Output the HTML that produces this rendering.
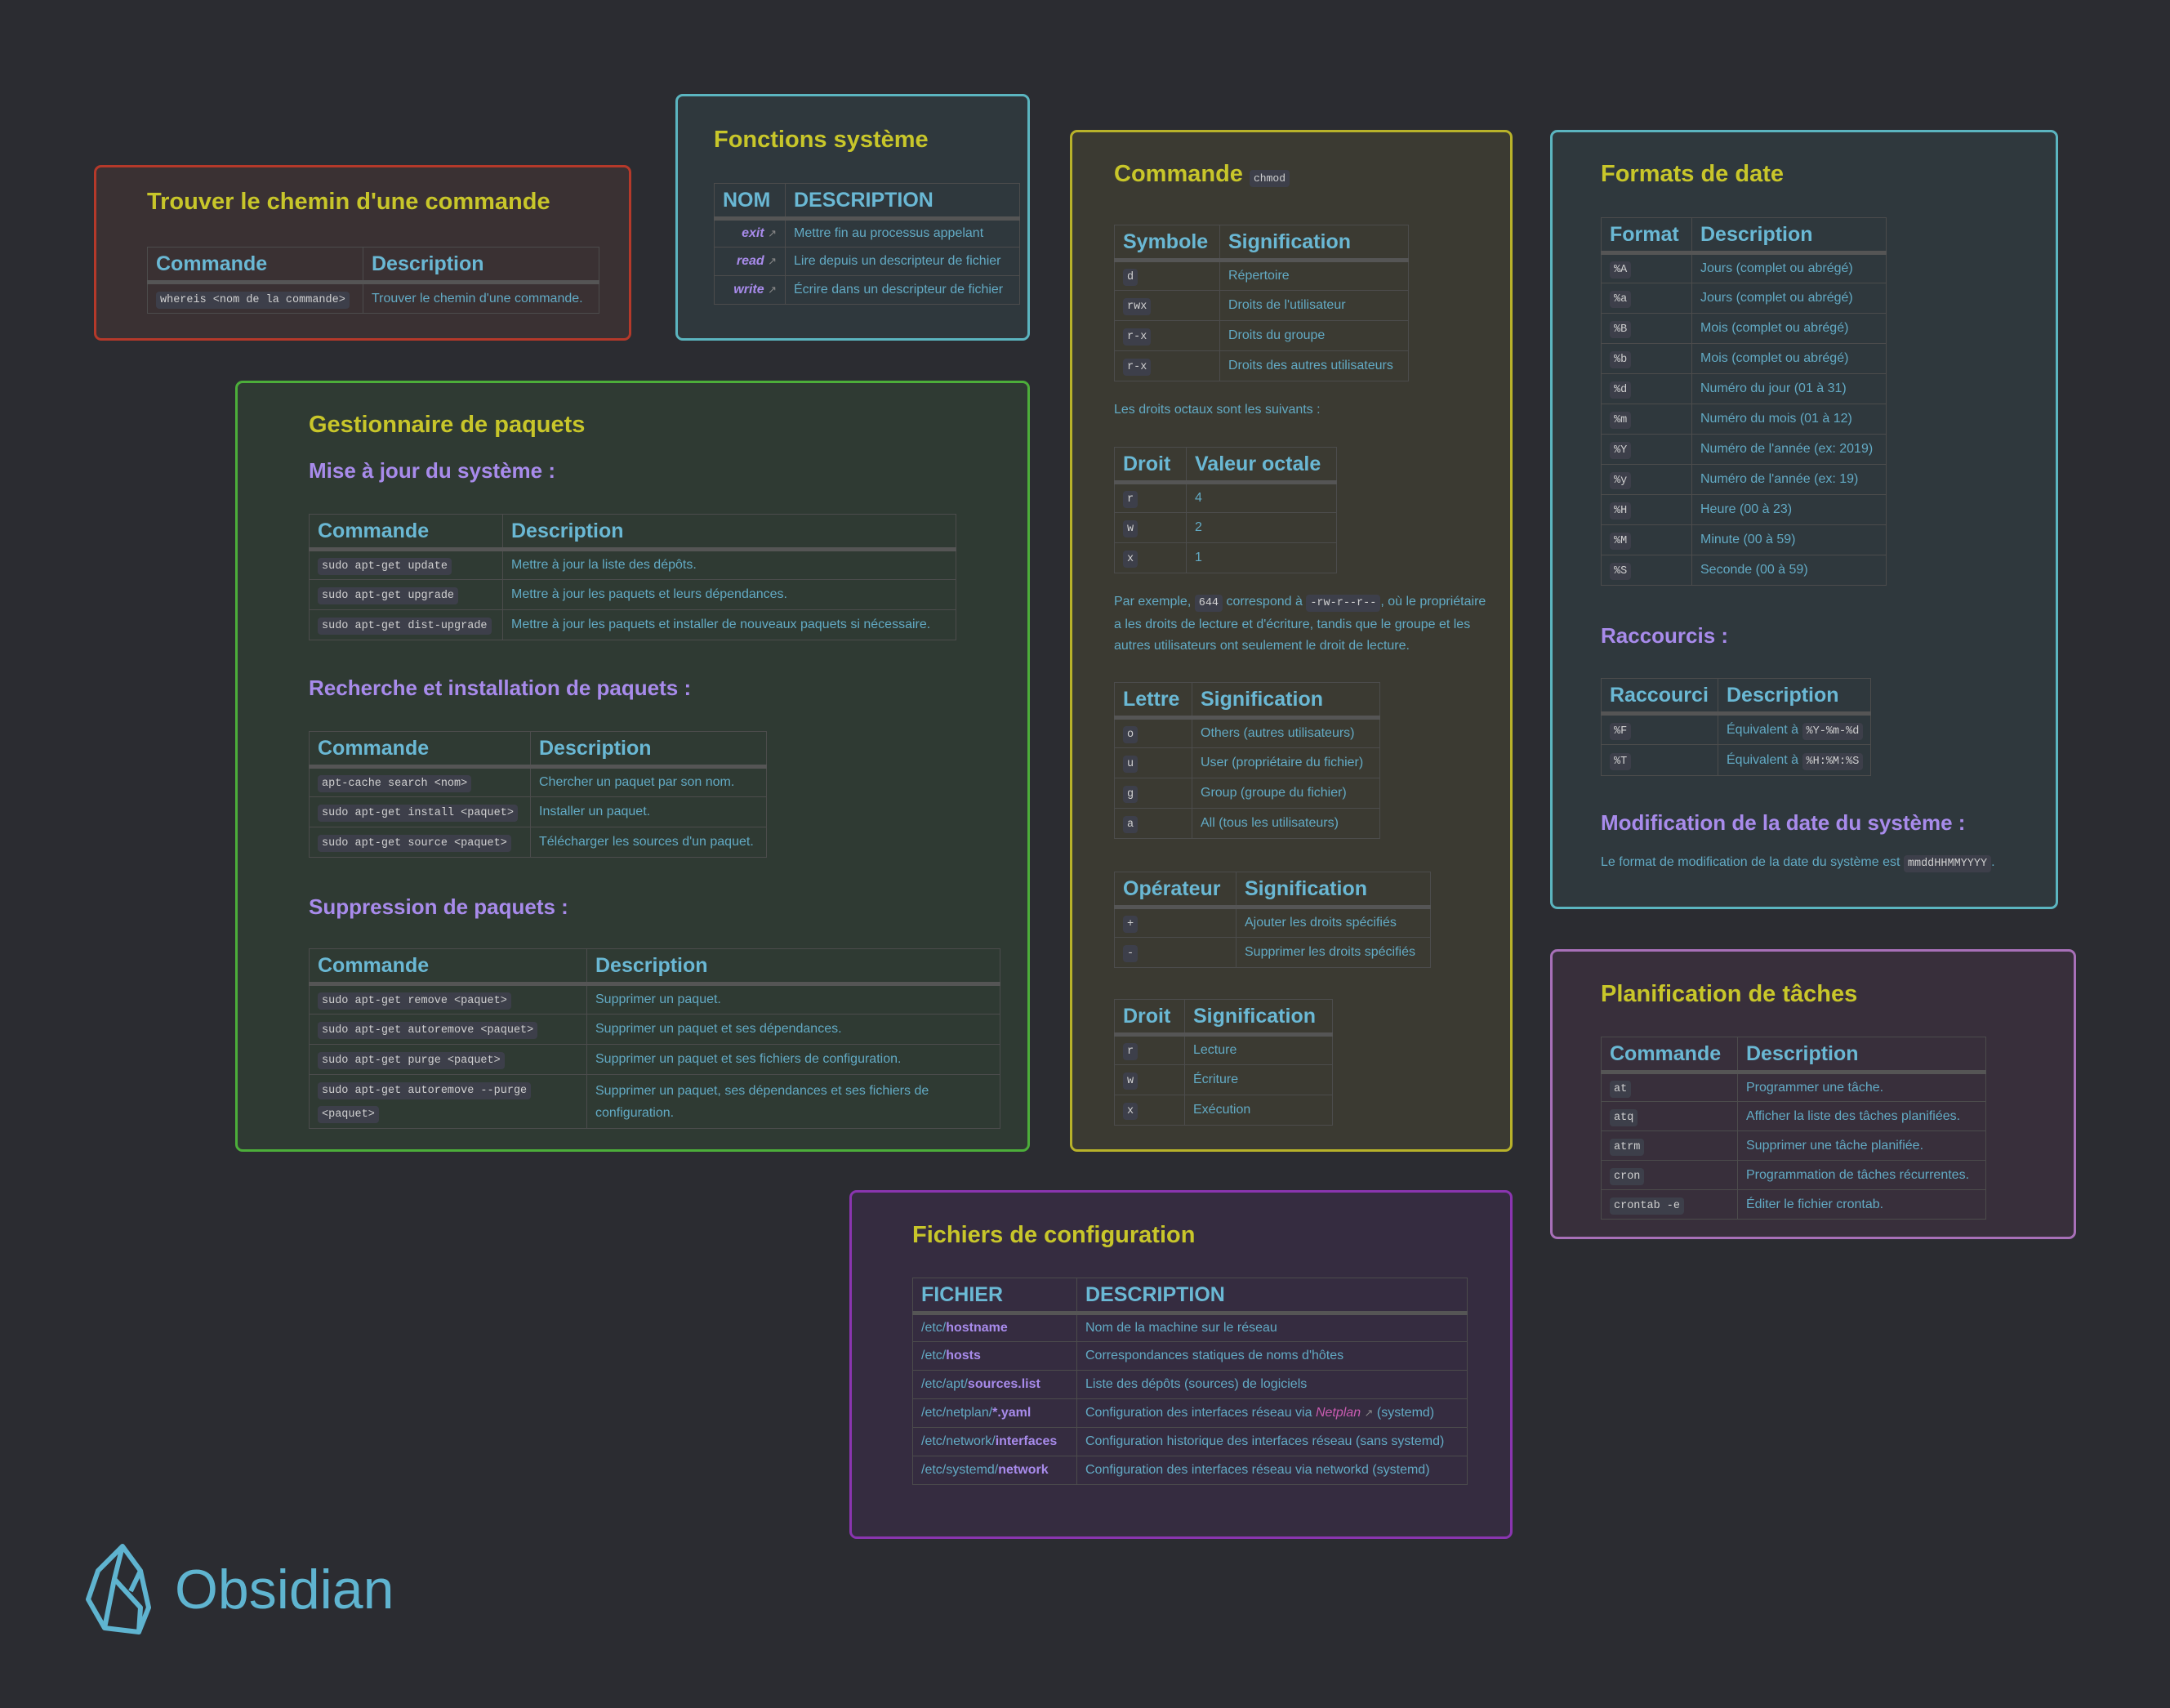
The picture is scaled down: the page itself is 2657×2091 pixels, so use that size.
<!DOCTYPE html>
<html><head><meta charset="utf-8">
<style>
html,body{margin:0;padding:0}
body{width:2657px;height:2091px;background:#2b2c31;position:relative;overflow:hidden;font-family:"Liberation Sans",sans-serif;color:#62aac4}
.box{position:absolute;border:3px solid;border-radius:9px;box-sizing:border-box}
.t{position:absolute;font-weight:bold;color:#c8c62a;font-size:29px;white-space:nowrap;line-height:1}
.h{position:absolute;font-weight:bold;color:#a88beb;font-size:26px;white-space:nowrap;line-height:1}
.p{position:absolute;font-size:16px;color:#62aac4;white-space:nowrap;line-height:26px}
table{position:absolute;border-collapse:collapse;table-layout:fixed}
th{font-size:25px;font-weight:bold;color:#6ab8d4;text-align:left;padding:0 10px;border:1px solid #4c4c4c;border-bottom:5px solid #555;height:40px;white-space:nowrap}
td{font-size:16px;color:#62aac4;padding:0 10px;border:1px solid #4c4c4c;white-space:nowrap}
code{font-family:"Liberation Mono",monospace;font-size:13.5px;color:#d0d0d0;background:#3d3f4a;padding:3px 5px;border-radius:4px}
.l{color:#a88beb;font-style:italic;font-weight:bold}
.e{color:#888;font-size:13px}
b.f{color:#a88beb}
</style></head><body>

<!-- Box 1 -->
<div class="box" style="left:115px;top:202px;width:658px;height:215px;border-color:#b5392a;background:#3a3133"></div>
<div class="t" style="left:180px;top:233px">Trouver le chemin d'une commande</div>
<table style="left:180px;top:302px;width:554px">
<colgroup><col style="width:264px"><col></colgroup>
<tr><th>Commande</th><th>Description</th></tr>
<tr style="height:38px"><td><code>whereis &lt;nom de la commande&gt;</code></td><td>Trouver le chemin d'une commande.</td></tr>
</table>

<!-- Box 2 -->
<div class="box" style="left:827px;top:115px;width:434px;height:302px;border-color:#5bb5c0;background:#2f383d"></div>
<div class="t" style="left:874px;top:157px">Fonctions système</div>
<table style="left:874px;top:224px;width:375px">
<colgroup><col style="width:87px"><col></colgroup>
<tr><th>NOM</th><th>DESCRIPTION</th></tr>
<tr style="height:35px"><td style="text-align:right"><span class="l">exit</span> <span class="e">↗</span></td><td>Mettre fin au processus appelant</td></tr>
<tr style="height:35px"><td style="text-align:right"><span class="l">read</span> <span class="e">↗</span></td><td>Lire depuis un descripteur de fichier</td></tr>
<tr style="height:35px"><td style="text-align:right"><span class="l">write</span> <span class="e">↗</span></td><td>Écrire dans un descripteur de fichier</td></tr>
</table>

<!-- Box 3 chmod -->
<div class="box" style="left:1310px;top:159px;width:542px;height:1251px;border-color:#b8b22a;background:#3b3a32"></div>
<div class="t" style="left:1364px;top:199px">Commande <code style="font-weight:normal;font-size:13px">chmod</code></div>
<table style="left:1364px;top:275px;width:361px">
<colgroup><col style="width:129px"><col></colgroup>
<tr><th>Symbole</th><th>Signification</th></tr>
<tr style="height:37px"><td><code>d</code></td><td>Répertoire</td></tr>
<tr style="height:37px"><td><code>rwx</code></td><td>Droits de l'utilisateur</td></tr>
<tr style="height:37px"><td><code>r-x</code></td><td>Droits du groupe</td></tr>
<tr style="height:37px"><td><code>r-x</code></td><td>Droits des autres utilisateurs</td></tr>
</table>
<div class="p" style="left:1364px;top:489px">Les droits octaux sont les suivants :</div>
<table style="left:1364px;top:547px;width:273px">
<colgroup><col style="width:88px"><col></colgroup>
<tr><th>Droit</th><th>Valeur octale</th></tr>
<tr style="height:37px"><td><code>r</code></td><td>4</td></tr>
<tr style="height:37px"><td><code>w</code></td><td>2</td></tr>
<tr style="height:37px"><td><code>x</code></td><td>1</td></tr>
</table>
<div class="p" style="left:1364px;top:724px">Par exemple, <code>644</code> correspond à <code>-rw-r--r--</code>, où le propriétaire<br>a les droits de lecture et d'écriture, tandis que le groupe et les<br>autres utilisateurs ont seulement le droit de lecture.</div>
<table style="left:1364px;top:835px;width:326px">
<colgroup><col style="width:95px"><col></colgroup>
<tr><th>Lettre</th><th>Signification</th></tr>
<tr style="height:37px"><td><code>o</code></td><td>Others (autres utilisateurs)</td></tr>
<tr style="height:37px"><td><code>u</code></td><td>User (propriétaire du fichier)</td></tr>
<tr style="height:37px"><td><code>g</code></td><td>Group (groupe du fichier)</td></tr>
<tr style="height:37px"><td><code>a</code></td><td>All (tous les utilisateurs)</td></tr>
</table>
<table style="left:1364px;top:1067px;width:388px">
<colgroup><col style="width:149px"><col></colgroup>
<tr><th>Opérateur</th><th>Signification</th></tr>
<tr style="height:37px"><td><code>+</code></td><td>Ajouter les droits spécifiés</td></tr>
<tr style="height:37px"><td><code>-</code></td><td>Supprimer les droits spécifiés</td></tr>
</table>
<table style="left:1364px;top:1223px;width:268px">
<colgroup><col style="width:86px"><col></colgroup>
<tr><th>Droit</th><th>Signification</th></tr>
<tr style="height:37px"><td><code>r</code></td><td>Lecture</td></tr>
<tr style="height:37px"><td><code>w</code></td><td>Écriture</td></tr>
<tr style="height:37px"><td><code>x</code></td><td>Exécution</td></tr>
</table>

<!-- Box 4 Formats -->
<div class="box" style="left:1898px;top:159px;width:622px;height:954px;border-color:#5bb5c0;background:#2f383d"></div>
<div class="t" style="left:1960px;top:199px">Formats de date</div>
<table style="left:1960px;top:266px;width:350px">
<colgroup><col style="width:111px"><col></colgroup>
<tr><th>Format</th><th>Description</th></tr>
<tr style="height:37px"><td><code>%A</code></td><td>Jours (complet ou abrégé)</td></tr>
<tr style="height:37px"><td><code>%a</code></td><td>Jours (complet ou abrégé)</td></tr>
<tr style="height:37px"><td><code>%B</code></td><td>Mois (complet ou abrégé)</td></tr>
<tr style="height:37px"><td><code>%b</code></td><td>Mois (complet ou abrégé)</td></tr>
<tr style="height:37px"><td><code>%d</code></td><td>Numéro du jour (01 à 31)</td></tr>
<tr style="height:37px"><td><code>%m</code></td><td>Numéro du mois (01 à 12)</td></tr>
<tr style="height:37px"><td><code>%Y</code></td><td>Numéro de l'année (ex: 2019)</td></tr>
<tr style="height:37px"><td><code>%y</code></td><td>Numéro de l'année (ex: 19)</td></tr>
<tr style="height:37px"><td><code>%H</code></td><td>Heure (00 à 23)</td></tr>
<tr style="height:37px"><td><code>%M</code></td><td>Minute (00 à 59)</td></tr>
<tr style="height:37px"><td><code>%S</code></td><td>Seconde (00 à 59)</td></tr>
</table>
<div class="h" style="left:1960px;top:765px">Raccourcis :</div>
<table style="left:1960px;top:830px;width:331px">
<colgroup><col style="width:143px"><col></colgroup>
<tr><th>Raccourci</th><th>Description</th></tr>
<tr style="height:38px"><td><code>%F</code></td><td>Équivalent à <code>%Y-%m-%d</code></td></tr>
<tr style="height:38px"><td><code>%T</code></td><td>Équivalent à <code>%H:%M:%S</code></td></tr>
</table>
<div class="h" style="left:1960px;top:994px">Modification de la date du système :</div>
<div class="p" style="left:1960px;top:1043px">Le format de modification de la date du système est <code>mmddHHMMYYYY</code>.</div>

<!-- Box 5 Gestionnaire -->
<div class="box" style="left:288px;top:466px;width:973px;height:944px;border-color:#4cae3a;background:#2f3a33"></div>
<div class="t" style="left:378px;top:506px">Gestionnaire de paquets</div>
<div class="h" style="left:378px;top:563px">Mise à jour du système :</div>
<table style="left:378px;top:629px;width:793px">
<colgroup><col style="width:237px"><col></colgroup>
<tr><th>Commande</th><th>Description</th></tr>
<tr style="height:37px"><td><code>sudo apt-get update</code></td><td>Mettre à jour la liste des dépôts.</td></tr>
<tr style="height:37px"><td><code>sudo apt-get upgrade</code></td><td>Mettre à jour les paquets et leurs dépendances.</td></tr>
<tr style="height:37px"><td><code>sudo apt-get dist-upgrade</code></td><td>Mettre à jour les paquets et installer de nouveaux paquets si nécessaire.</td></tr>
</table>
<div class="h" style="left:378px;top:829px">Recherche et installation de paquets :</div>
<table style="left:378px;top:895px;width:561px">
<colgroup><col style="width:271px"><col></colgroup>
<tr><th>Commande</th><th>Description</th></tr>
<tr style="height:37px"><td><code>apt-cache search &lt;nom&gt;</code></td><td>Chercher un paquet par son nom.</td></tr>
<tr style="height:37px"><td><code>sudo apt-get install &lt;paquet&gt;</code></td><td>Installer un paquet.</td></tr>
<tr style="height:37px"><td><code>sudo apt-get source &lt;paquet&gt;</code></td><td>Télécharger les sources d'un paquet.</td></tr>
</table>
<div class="h" style="left:378px;top:1097px">Suppression de paquets :</div>
<table style="left:378px;top:1161px;width:847px">
<colgroup><col style="width:340px"><col></colgroup>
<tr><th>Commande</th><th>Description</th></tr>
<tr style="height:37px"><td><code>sudo apt-get remove &lt;paquet&gt;</code></td><td>Supprimer un paquet.</td></tr>
<tr style="height:37px"><td><code>sudo apt-get autoremove &lt;paquet&gt;</code></td><td>Supprimer un paquet et ses dépendances.</td></tr>
<tr style="height:37px"><td><code>sudo apt-get purge &lt;paquet&gt;</code></td><td>Supprimer un paquet et ses fichiers de configuration.</td></tr>
<tr style="height:66px"><td style="line-height:27px"><code>sudo apt-get autoremove --purge</code><br><code>&lt;paquet&gt;</code></td><td style="line-height:27px">Supprimer un paquet, ses dépendances et ses fichiers de<br>configuration.</td></tr>
</table>

<!-- Box 6 Planification -->
<div class="box" style="left:1898px;top:1162px;width:644px;height:355px;border-color:#a870b8;background:#382f3b"></div>
<div class="t" style="left:1960px;top:1203px">Planification de tâches</div>
<table style="left:1960px;top:1269px;width:472px">
<colgroup><col style="width:167px"><col></colgroup>
<tr><th>Commande</th><th>Description</th></tr>
<tr style="height:36px"><td><code>at</code></td><td>Programmer une tâche.</td></tr>
<tr style="height:36px"><td><code>atq</code></td><td>Afficher la liste des tâches planifiées.</td></tr>
<tr style="height:36px"><td><code>atrm</code></td><td>Supprimer une tâche planifiée.</td></tr>
<tr style="height:36px"><td><code>cron</code></td><td>Programmation de tâches récurrentes.</td></tr>
<tr style="height:36px"><td><code>crontab -e</code></td><td>Éditer le fichier crontab.</td></tr>
</table>

<!-- Box 7 Fichiers -->
<div class="box" style="left:1040px;top:1457px;width:812px;height:427px;border-color:#8a35b0;background:#352c40"></div>
<div class="t" style="left:1117px;top:1498px">Fichiers de configuration</div>
<table style="left:1117px;top:1564px;width:680px">
<colgroup><col style="width:201px"><col></colgroup>
<tr><th>FICHIER</th><th>DESCRIPTION</th></tr>
<tr style="height:35px"><td>/etc/<b class="f">hostname</b></td><td>Nom de la machine sur le réseau</td></tr>
<tr style="height:35px"><td>/etc/<b class="f">hosts</b></td><td>Correspondances statiques de noms d'hôtes</td></tr>
<tr style="height:35px"><td>/etc/apt/<b class="f">sources.list</b></td><td>Liste des dépôts (sources) de logiciels</td></tr>
<tr style="height:35px"><td>/etc/netplan/<b class="f">*.yaml</b></td><td>Configuration des interfaces réseau via <i style="color:#c95bb0">Netplan</i> <span class="e">↗</span> (systemd)</td></tr>
<tr style="height:35px"><td>/etc/network/<b class="f">interfaces</b></td><td>Configuration historique des interfaces réseau (sans systemd)</td></tr>
<tr style="height:35px"><td>/etc/systemd/<b class="f">network</b></td><td>Configuration des interfaces réseau via networkd (systemd)</td></tr>
</table>

<!-- Obsidian logo -->
<svg style="position:absolute;left:100px;top:1888px" width="90" height="115" viewBox="0 0 90 115">
<g fill="none" stroke="#5fb4d0" stroke-width="6" stroke-linejoin="round">
<path d="M50 5 L20 35 L8 70 L28 105 L70 110 L82 80 L72 35 Z"/>
<path d="M50 5 L40 45 L28 105 M40 45 L72 80 L70 110 M72 35 L60 60"/>
</g></svg>
<div style="position:absolute;left:214px;top:1912px;font-size:68px;color:#5fb4d0;line-height:1">Obsidian</div>
</body></html>
